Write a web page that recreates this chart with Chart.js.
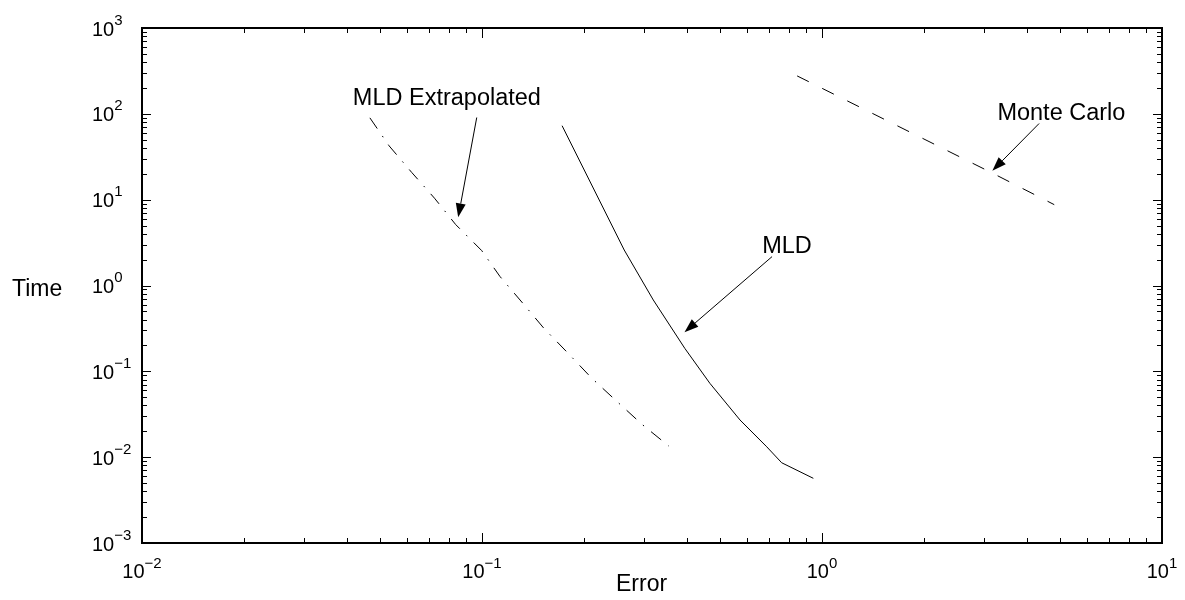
<!DOCTYPE html>
<html>
<head>
<meta charset="utf-8">
<script src="https://cdn.jsdelivr.net/npm/chart.js@4.4.1/dist/chart.umd.min.js"></script>
<style>
  body { margin: 0; background: #fff; }
  canvas { display: block; }
</style>
</head>
<body>
<canvas id="timeChart" width="1185" height="600"></canvas>
<script>
// values (error vs. time, both log scale)
var extrapError = [0.0468, 0.0533, 0.0621, 0.0725, 0.0837, 0.0998, 0.113, 0.131, 0.152, 0.179, 0.210, 0.249, 0.296, 0.354];
var extrapTime  = [89.8, 42.4, 20.8, 10.4, 5.12, 2.55, 1.27, 0.64, 0.318, 0.163, 0.0836, 0.0448, 0.0240, 0.0135];

var mldError = [0.172, 0.262, 0.319, 0.395, 0.468, 0.574, 0.688, 0.761, 0.943];
var mldTime  = [72.7, 2.59, 0.678, 0.185, 0.0725, 0.0271, 0.0132, 0.00861, 0.00567];

var mcError = [0.845, 3.17, 4.82];
var mcTime  = [276.6, 20.4, 8.75];

// tick labels (powers of ten)
var xDecades = [0.01, 0.1, 1, 10];
var xExponents = ['\u22122', '\u22121', '0', '1'];
var yDecades = [0.001, 0.01, 0.1, 1, 10, 100, 1000];
var yExponents = ['\u22123', '\u22122', '\u22121', '0', '1', '2', '3'];

// annotations, in data units
var noteText = ['MLD Extrapolated', 'MLD', 'Monte Carlo'];
var noteAt = [[0.0417, 127], [0.667, 2.36], [3.28, 85.1]];
var arrowFrom = [[0.0965, 90.6], [0.713, 2.17], [4.35, 77.1]];
var arrowTo = [[0.0851, 6.22], [0.394, 0.286], [3.17, 21.7]];

var fontFamily = '"Liberation Sans", Arial, Helvetica, sans-serif';

function toPoints(xs, ys) {
    return xs.map(function(x, i) { return { x: x, y: ys[i] }; });
}

function drawArrow(ctx, x1, y1, x2, y2) {
    var ang = Math.atan2(y2 - y1, x2 - x1);
    var headLen = 14, headHalf = 5;
    var bx = x2 - headLen * Math.cos(ang), by = y2 - headLen * Math.sin(ang);
    ctx.beginPath();
    ctx.moveTo(x1, y1);
    ctx.lineTo(bx, by);
    ctx.stroke();
    ctx.beginPath();
    ctx.moveTo(x2, y2);
    ctx.lineTo(bx + headHalf * Math.sin(ang), by - headHalf * Math.cos(ang));
    ctx.lineTo(bx - headHalf * Math.sin(ang), by + headHalf * Math.cos(ang));
    ctx.closePath();
    ctx.fill();
}

// matlab style box, inward ticks, 10^n labels, arrows
var matlabAxes = {
    id: 'matlabAxes',
    afterDatasetsDraw: function(chart) {
        var ctx = chart.ctx;
        var area = chart.chartArea;
        var xs = chart.scales.x, ys = chart.scales.y;
        ctx.save();
        ctx.strokeStyle = '#000';
        ctx.fillStyle = '#000';

        // ticks
        ctx.lineWidth = 1;
        ctx.beginPath();
        xDecades.forEach(function(d, i) {
            for (var m = 1; m <= 9; m++) {
                if (m > 1 && i == xDecades.length - 1) break;
                var px = Math.round(xs.getPixelForValue(m * d)) + 0.5;
                var len = m == 1 ? 10 : 5;
                ctx.moveTo(px, area.bottom); ctx.lineTo(px, area.bottom - len);
                ctx.moveTo(px, area.top); ctx.lineTo(px, area.top + len);
            }
        });
        yDecades.forEach(function(d, i) {
            for (var m = 1; m <= 9; m++) {
                if (m > 1 && i == yDecades.length - 1) break;
                var py = Math.round(ys.getPixelForValue(m * d)) + 0.5;
                var len = m == 1 ? 9 : 5;
                ctx.moveTo(area.left, py); ctx.lineTo(area.left + len, py);
                ctx.moveTo(area.right, py); ctx.lineTo(area.right - len, py);
            }
        });
        ctx.stroke();

        // box
        ctx.lineWidth = 2;
        ctx.strokeRect(area.left, area.top, area.right - area.left, area.bottom - area.top);

        // tick labels
        ctx.textBaseline = 'alphabetic';
        ctx.textAlign = 'left';
        xDecades.forEach(function(d, i) {
            var px = xs.getPixelForValue(d);
            ctx.font = '20px ' + fontFamily;
            var w1 = ctx.measureText('10').width;
            ctx.font = '15px ' + fontFamily;
            var w2 = ctx.measureText(xExponents[i]).width;
            var start = px - (w1 + w2) / 2;
            ctx.font = '20px ' + fontFamily;
            ctx.fillText('10', start, 578);
            ctx.font = '15px ' + fontFamily;
            ctx.fillText(xExponents[i], start + w1, 568);
        });
        yDecades.forEach(function(d, i) {
            var py = ys.getPixelForValue(d);
            ctx.font = '20px ' + fontFamily;
            var w1 = ctx.measureText('10').width;
            ctx.fillText('10', 92, py + 7.5);
            ctx.font = '15px ' + fontFamily;
            ctx.fillText(yExponents[i], 92 + w1, py - 3.5);
        });

        // axis labels
        ctx.font = '23px ' + fontFamily;
        ctx.fillText('Time', 12, 296);
        ctx.fillText('Error', 616, 591);

        // annotations
        ctx.lineWidth = 1;
        noteText.forEach(function(t, i) {
            ctx.font = '23.5px ' + fontFamily;
            ctx.fillText(t, xs.getPixelForValue(noteAt[i][0]), ys.getPixelForValue(noteAt[i][1]));
            drawArrow(ctx,
                xs.getPixelForValue(arrowFrom[i][0]), ys.getPixelForValue(arrowFrom[i][1]),
                xs.getPixelForValue(arrowTo[i][0]), ys.getPixelForValue(arrowTo[i][1]));
        });
        ctx.restore();
    }
};

var ctx = document.getElementById('timeChart').getContext('2d');
var timeChart = new Chart(ctx, {
    type: 'scatter',
    data: {
        datasets: [
            {
                label: 'MLD Extrapolated',
                data: toPoints(extrapError, extrapTime),
                showLine: true,
                borderColor: '#000',
                borderWidth: 1,
                borderDash: [13, 9, 1.5, 9],
                pointRadius: 0,
                fill: false
            },
            {
                label: 'MLD',
                data: toPoints(mldError, mldTime),
                showLine: true,
                borderColor: '#000',
                borderWidth: 1,
                pointRadius: 0,
                fill: false
            },
            {
                label: 'Monte Carlo',
                data: toPoints(mcError, mcTime),
                showLine: true,
                borderColor: '#000',
                borderWidth: 1,
                borderDash: [13, 15],
                pointRadius: 0,
                fill: false
            }
        ]
    },
    options: {
        responsive: false,
        animation: false,
        layout: { padding: { left: 142, right: 23, top: 28, bottom: 57 } },
        plugins: {
            legend: { display: false },
            tooltip: { enabled: false }
        },
        scales: {
            x: { type: 'logarithmic', min: 0.01, max: 10, display: false },
            y: { type: 'logarithmic', min: 0.001, max: 1000, display: false }
        }
    },
    plugins: [matlabAxes]
});
</script>
</body>
</html>
